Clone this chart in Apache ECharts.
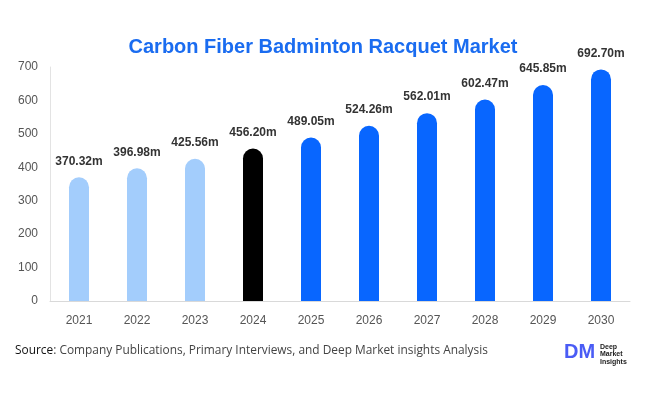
<!DOCTYPE html>
<html><head><meta charset="utf-8">
<script src="https://cdn.jsdelivr.net/npm/echarts@6/dist/echarts.min.js"></script>
<style>html,body{margin:0;padding:0;background:#fff}#c{width:646px;height:394px}</style>
</head><body><div id="c"></div>
<script>
const categories = ['2021','2022','2023','2024','2025','2026','2027','2028','2029','2030'];
const values = [370.32, 396.98, 425.56, 456.20, 489.05, 524.26, 562.01, 602.47, 645.85, 692.70];
const yTicks = {min: 0, max: 700, interval: 100};
const colorPast = '#a3cdfc', colorBase = '#000000', colorForecast = '#0866ff';

const chart = echarts.init(document.getElementById('c'));
chart.setOption({
  animation: false,
  title: {text: 'Carbon Fiber Badminton Racquet Market', left: 'center', top: 32,
    textStyle: {color: '#1a6cf0', fontSize: 20, fontWeight: 'bold', fontFamily: 'Liberation Sans, Arial'}},
  grid: {left: 50, right: 16, top: 67, bottom: 93},
  xAxis: {type: 'category', data: categories,
    axisLine: {lineStyle: {color: '#d9d9d9'}}, axisTick: {show: false},
    axisLabel: {color: '#555', fontSize: 12, margin: 14, fontFamily: 'Liberation Sans, Arial'}},
  yAxis: {type: 'value', min: yTicks.min, max: yTicks.max, interval: yTicks.interval,
    axisLine: {show: true, lineStyle: {color: '#e3e3e3'}}, axisTick: {show: false}, splitLine: {show: false},
    axisLabel: {color: '#555', fontSize: 12, margin: 12, fontFamily: 'Liberation Sans, Arial'}},
  series: [{type: 'bar', barWidth: 20,
    data: values.map((v, i) => ({value: v, itemStyle: {color: i < 3 ? colorPast : (i === 3 ? colorBase : colorForecast)}})),
    itemStyle: {borderRadius: [10, 10, 0, 0]},
    label: {show: true, position: 'top', distance: 10, formatter: p => p.value.toFixed(2) + 'm',
      color: '#333', fontSize: 12, fontWeight: 'bold', fontFamily: 'Liberation Sans, Arial'}}],
  graphic: [
    {type: 'text', left: 15, top: 345, style: {rich: {b: {fontSize: 11.9, fill: '#111', fontFamily: 'Open Sans'}, n: {fontSize: 11.9, fill: '#444', fontFamily: 'Open Sans'}},
      text: '{b|Source}{n|: Company Publications, Primary Interviews, and Deep Market insights Analysis}'}},
    {type: 'text', left: 564, top: 342, style: {text: 'DM', fontSize: 20, fontWeight: 'bold', fill: '#4a5cf5', fontFamily: 'Liberation Sans, Arial'}},
    {type: 'text', left: 600, top: 343, style: {text: 'Deep\nMarket\nInsights', fontSize: 7, lineHeight: 7.5, fill: '#222', fontWeight: 'bold', fontFamily: 'Liberation Sans, Arial'}}
  ]
});
</script></body></html>
